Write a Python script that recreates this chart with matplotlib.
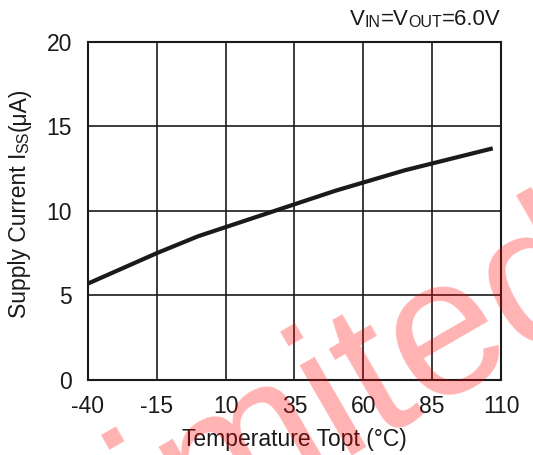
import matplotlib
matplotlib.use("Agg")
import matplotlib.pyplot as plt

# ----- donnees
temperature = [-40, -15, 0, 25, 50, 75, 107]
courant = [5.7, 7.5, 8.5, 9.85, 11.2, 12.4, 13.7]

x_ticks = [-40, -15, 10, 35, 60, 85, 110]
y_ticks = [0, 5, 10, 15, 20]

plt.rcParams['font.family'] = ['Liberation Sans', 'DejaVu Sans']
plt.rcParams['axes.unicode_minus'] = False

noir = '#1a1a1a'
big = 16.5
small = 11.5

fig = plt.figure(figsize=(5.33, 4.55), dpi=100)
ax = fig.add_axes([0.165, 0.165, 0.775, 0.743])

ax.plot(temperature, courant, color=noir, lw=3, solid_capstyle='butt')

ax.set_xlim(-40, 110)
ax.set_ylim(0, 20)
ax.set_xticks(x_ticks)
ax.set_yticks(y_ticks)
ax.grid(True, color=noir, lw=1.2)
for s in ax.spines.values():
    s.set_color(noir)
    s.set_linewidth(1.5)
ax.tick_params(length=0, labelsize=big, colors=noir)
ax.tick_params(axis='x', pad=11)
ax.tick_params(axis='y', pad=11.5)

ax.set_xlabel('Temperature Topt (°C)', fontsize=big, color=noir, labelpad=7)

# ----- etiquette y en morceaux (indice en petites capitales)
t1 = fig.text(0.015, 1 - 318 / 455, 'Supply Current I', rotation=90, fontsize=big,
              ha='left', va='bottom', color=noir)
t2 = ax.annotate('SS', xy=(1, 1), xycoords=t1, rotation=90, fontsize=small,
                 ha='right', va='bottom', color=noir, annotation_clip=False)
t3 = ax.annotate('(μA)', xy=(1, 1), xycoords=t2, rotation=90, fontsize=big,
                 ha='right', va='bottom', color=noir, annotation_clip=False)

# ----- condition en haut a droite
c5 = fig.text(0.94, 0.935, '=6.0V', fontsize=16, ha='right', va='bottom', color=noir)
c4 = ax.annotate('OUT', xy=(0, 0), xycoords=c5, fontsize=small, ha='right', va='bottom',
                 color=noir, annotation_clip=False)
c3 = ax.annotate('=V', xy=(0, 0), xycoords=c4, fontsize=16, ha='right', va='bottom',
                 color=noir, annotation_clip=False)
c2 = ax.annotate('IN', xy=(0, 0), xycoords=c3, fontsize=small, ha='right', va='bottom',
                 color=noir, annotation_clip=False)
c1 = ax.annotate('V', xy=(0, 0), xycoords=c2, fontsize=16, ha='right', va='bottom',
                 color=noir, annotation_clip=False)

# ----- filigrane
fig.text(0.124, -0.343, 'Limited', fontsize=141, rotation=30, rotation_mode='anchor',
         color='red', alpha=0.3, ha='left', va='baseline', zorder=10)

fig.savefig('out.png', dpi=100)
